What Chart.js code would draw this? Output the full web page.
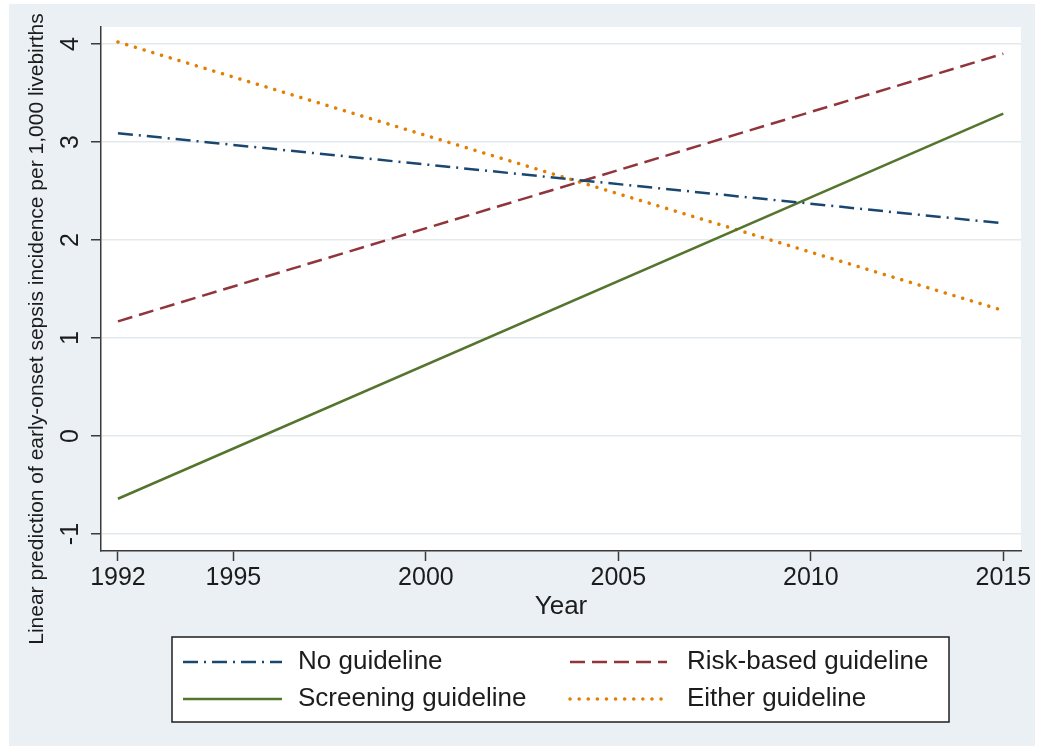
<!DOCTYPE html>
<html>
<head>
<meta charset="utf-8">
<title>Early-onset sepsis incidence by guideline</title>
<script src="https://cdn.jsdelivr.net/npm/chart.js@4.4.1/dist/chart.umd.min.js"></script>
<style>
  html, body { margin: 0; padding: 0; background: #ffffff; }
  #wrap { width: 1039px; height: 746px; position: relative; }
</style>
</head>
<body>
<div id="wrap"><canvas id="chart" width="1039" height="746"></canvas></div>
<script>
// Fitted linear predictions (per 1,000 live births) at the ends of the study period
const years = [1992, 2015];
const noGuideline = [3.09, 2.17];
const riskBased = [1.17, 3.90];
const screening = [-0.64, 3.29];
const eitherGuideline = [4.02, 1.28];

const seriesNames = ['No guideline', 'Risk-based guideline', 'Screening guideline', 'Either guideline'];
const xTicks = [1992, 1995, 2000, 2005, 2010, 2015];
const yTicks = [-1, 0, 1, 2, 3, 4];
const xTitle = 'Year';
const yTitle = 'Linear prediction of early-onset sepsis incidence per 1,000 livebirths';

const FONT = "'Liberation Sans', Arial, sans-serif";
const INK = '#1c1c1c';
const AXIS = '#3a3a3a';

const toPoints = vals => years.map((yr, i) => ({ x: yr, y: vals[i] }));

const styles = [
  { color: '#1a476f', dash: [15, 6, 2, 6], cap: 'butt', width: 2.5 },
  { color: '#90353b', dash: [15, 7], cap: 'butt', width: 2.5 },
  { color: '#55752f', dash: [], cap: 'butt', width: 2.5 },
  { color: '#e37e00', dash: [0.1, 9], cap: 'round', width: 3.5 }
];

const values = [noGuideline, riskBased, screening, eitherGuideline];

const datasets = values.map((v, i) => ({
  label: seriesNames[i],
  data: toPoints(v),
  borderColor: styles[i].color,
  backgroundColor: styles[i].color,
  borderDash: styles[i].dash,
  borderCapStyle: styles[i].cap,
  borderWidth: styles[i].width,
  pointRadius: 0,
  tension: 0,
  fill: false
}));

// Grey outer frame with a white plot region
const framePlugin = {
  id: 'frame',
  beforeDraw(chart) {
    const { ctx, chartArea: a } = chart;
    ctx.save();
    ctx.fillStyle = '#ffffff';
    ctx.fillRect(0, 0, chart.width, chart.height);
    ctx.fillStyle = '#eaf0f4';
    ctx.fillRect(9, 4, chart.width - 13, chart.height - 4);
    ctx.fillStyle = '#ffffff';
    ctx.fillRect(a.left, a.top, a.right - a.left, a.bottom - a.top);
    ctx.restore();
  }
};

// Vertical axis title, centred on the full frame height
const yTitlePlugin = {
  id: 'yTitle',
  afterDraw(chart) {
    const { ctx } = chart;
    ctx.save();
    ctx.translate(37, 329);
    ctx.rotate(-Math.PI / 2);
    ctx.font = '21px ' + FONT;
    ctx.fillStyle = INK;
    ctx.textAlign = 'center';
    ctx.textBaseline = 'middle';
    ctx.fillText(yTitle, 0, 0);
    ctx.restore();
  }
};

// Boxed two-column legend below the axis title
const boxLegendPlugin = {
  id: 'boxLegend',
  afterDraw(chart) {
    const { ctx } = chart;
    const box = { x: 172, y: 637, w: 777, h: 85 };
    const cols = [{ l0: 183, l1: 282, t: 298 }, { l0: 570, l1: 667, t: 687 }];
    const rows = [662, 699];
    ctx.save();
    ctx.fillStyle = '#ffffff';
    ctx.fillRect(box.x, box.y, box.w, box.h);
    ctx.strokeStyle = '#1e1e1e';
    ctx.lineWidth = 1.5;
    ctx.strokeRect(box.x, box.y, box.w, box.h);
    chart.data.datasets.forEach((ds, i) => {
      const c = cols[i % 2];
      const y = rows[Math.floor(i / 2)];
      ctx.beginPath();
      ctx.strokeStyle = ds.borderColor;
      ctx.lineWidth = ds.borderWidth;
      ctx.lineCap = ds.borderCapStyle;
      ctx.setLineDash(ds.borderDash);
      ctx.moveTo(c.l0, y);
      ctx.lineTo(c.l1, y);
      ctx.stroke();
      ctx.setLineDash([]);
      ctx.font = '26px ' + FONT;
      ctx.fillStyle = INK;
      ctx.textAlign = 'left';
      ctx.textBaseline = 'middle';
      ctx.fillText(ds.label, c.t, y);
    });
    ctx.restore();
  }
};

new Chart(document.getElementById('chart'), {
  type: 'line',
  data: { datasets },
  plugins: [framePlugin, yTitlePlugin, boxLegendPlugin],
  options: {
    responsive: false,
    animation: false,
    layout: { padding: { left: 0, top: 27, right: 18, bottom: 124 } },
    plugins: { legend: { display: false }, tooltip: { enabled: false } },
    scales: {
      x: {
        type: 'linear',
        min: 1991.56,
        max: 2015.46,
        afterBuildTicks: s => { s.ticks = xTicks.map(v => ({ value: v })); },
        afterFit: s => { s.height = 71; },
        ticks: {
          font: { family: FONT, size: 25 },
          color: INK,
          padding: 2,
          maxRotation: 0,
          autoSkip: false,
          callback: v => String(v)
        },
        grid: { display: true, drawOnChartArea: false, tickLength: 10, tickColor: AXIS, tickWidth: 1.5 },
        border: { display: true, color: AXIS, width: 1.5 },
        title: { display: true, text: xTitle, font: { family: FONT, size: 26 }, color: INK, padding: { top: 0, bottom: 0 } }
      },
      y: {
        type: 'linear',
        min: -1.173,
        max: 4.173,
        afterBuildTicks: s => { s.ticks = yTicks.map(v => ({ value: v })); },
        afterFit: s => { s.width = 101; },
        ticks: {
          font: { family: FONT, size: 25 },
          color: INK,
          padding: 9,
          minRotation: 90,
          maxRotation: 90,
          crossAlign: 'center',
          autoSkip: false,
          callback: v => String(v)
        },
        grid: { display: true, drawOnChartArea: true, color: '#e3eaee', lineWidth: 1.5, tickLength: 10, tickColor: AXIS, tickWidth: 1.5 },
        border: { display: true, color: AXIS, width: 1.5 }
      }
    }
  }
});
</script>
</body>
</html>
